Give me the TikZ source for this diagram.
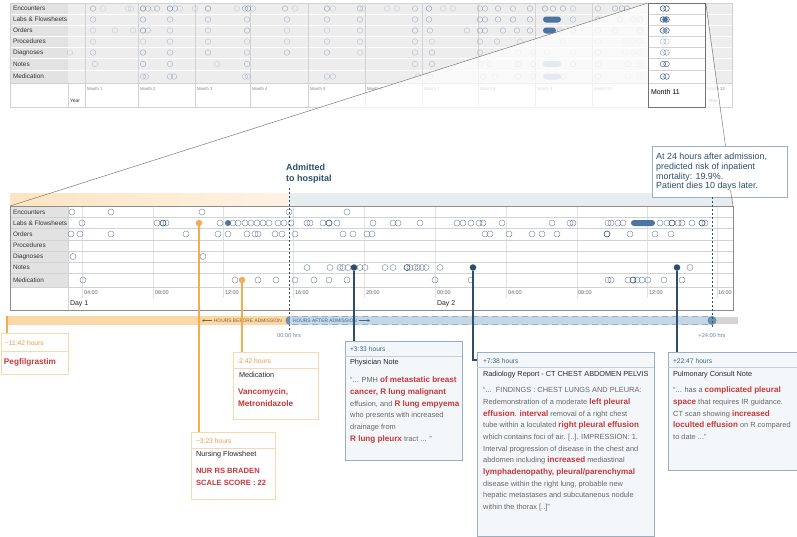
\documentclass[tikz,border=0pt]{standalone}
\usepackage{fontspec}
\setmainfont{Liberation Sans}
\usetikzlibrary{arrows.meta}
\definecolor{toprow}{HTML}{EDEDED}
\definecolor{toplab}{HTML}{E2E2E2}
\definecolor{gline}{HTML}{D2D2D2}
\definecolor{hline}{HTML}{E2E2E2}
\definecolor{circ}{HTML}{6F82A0}
\definecolor{darkcirc}{HTML}{3E5878}
\definecolor{darkblue}{HTML}{2F4D68}
\definecolor{pillblue}{HTML}{4D73A3}
\definecolor{pillgray}{HTML}{A9B4C6}
\definecolor{orng}{HTML}{F2AE4E}
\definecolor{orngbox}{HTML}{F9D8AA}
\definecolor{orngtxt}{HTML}{E59B4A}
\definecolor{hlred}{HTML}{C8373A}
\definecolor{tealtxt}{HTML}{2B5069}
\definecolor{bluebox}{HTML}{F4F7FA}
\definecolor{blueedge}{HTML}{9DAFBF}
\definecolor{bluehdr}{HTML}{3F6888}
\definecolor{bodygray}{HTML}{666666}
\definecolor{bandorange}{HTML}{FDE4C2}
\definecolor{bandblue}{HTML}{E8EDF2}
\definecolor{barorange}{HTML}{FCD8A6}
\definecolor{barblue}{HTML}{C3D7E6}
\definecolor{barblueedge}{HTML}{8FB0C8}
\definecolor{capblue}{HTML}{6D92AE}
\definecolor{browntxt}{HTML}{8A6236}
\newcommand{\fsz}[1]{\fontsize{#1}{#1}\selectfont}
\newcommand{\hlr}[1]{{\color{hlred}\bfseries\fontsize{8.1}{11.7}\selectfont #1}}
\newcommand{\crow}[2]{\foreach \x/\o in {#2} \draw[tc, draw opacity=\o] (\x,#1) circle (2.8);}
\newcommand{\drow}[3]{\foreach \x in {#3} \draw[#2] (\x,#1) circle (3);}
\begin{document}
\begin{tikzpicture}[x=1pt,y=-1pt,
  txt/.style={anchor=west, inner sep=0, outer sep=0},
  rowlbl/.style={txt, font=\fsz{6.4}, text=black!80},
  monlbl/.style={txt, font=\fsz{4.3}, text=black!50},
  hrlbl/.style={txt, font=\fsz{5.5}, text=black!60},
  tc/.style={draw=circ, line width=0.45},
  dc/.style={draw=circ, line width=0.5, draw opacity=0.85},
  ddc/.style={draw=darkcirc, line width=0.65},
  obox/.style={draw=orngbox, fill=white, line width=0.7, anchor=north west, inner sep=0, rectangle},
  bbox/.style={draw=blueedge, fill=bluebox, line width=0.7, anchor=north west, inner sep=0, rectangle},
  ohdr/.style={txt, font=\fsz{6.7}, text=orngtxt},
  bhdr/.style={txt, font=\fsz{6.7}, text=bluehdr},
  ttl/.style={txt, font=\fsz{7.3}, text=black!85},
  redb/.style={txt, font=\bfseries\fsz{8.2}, text=hlred},
  body/.style={anchor=north west, inner sep=0, align=left, font=\fontsize{7.4}{11.7}\selectfont, text=bodygray},
  oline/.style={draw=orng, line width=1.1},
  bline/.style={draw=darkblue, line width=1.1},
  dot/.style={circle, inner sep=0, minimum size=6.5},
]
\useasboundingbox (0,0) rectangle (797,536);

% ================= TOP OVERVIEW PANEL =================
\fill[toprow] (68,3) rectangle (732,83);
\fill[toplab] (10,3) rectangle (68,83);
\foreach \y in {14,25,36,47,58,70} \draw[white, line width=0.9] (10,\y) -- (732,\y);
\foreach \x in {85,138,195,250,308,365,422,478,535,592,705} \draw[gline, line width=0.4] (\x,3) -- (\x,107);
\draw[gline, line width=0.5] (10,3) rectangle (732,107);
\draw[gline, line width=0.5] (68,83) -- (68,107);
\draw[gline, line width=0.5] (10,83) -- (732,83);
\node[rowlbl] (tl1) at (13,8.5) {Encounters};
\node[rowlbl] (tl2) at (13,19.5) {Labs \& Flowsheets};
\node[rowlbl] (tl3) at (13,30.5) {Orders};
\node[rowlbl] (tl4) at (13,41.5) {Procedures};
\node[rowlbl] (tl5) at (13,52.5) {Diagnoses};
\node[rowlbl] (tl6) at (13,64) {Notes};
\node[rowlbl] (tl7) at (13,76.5) {Medication};
\foreach \x/\m [count=\i] in {87/1,140/2,197/3,252/4,310/5,367/6,424/7,480/8,537/9,594/10,707/12}
  \node[monlbl] (mon\i) at (\x,89) {Month \m};
\node[txt, font=\fsz{5}, text=black!80] (yr1) at (70,101) {Year};
\node[txt, font=\fsz{5}, text=black!60] (yr2) at (708,101) {Year};

\crow{8.5}{93/.6,103/.25,128/.25,131/.25,143/.9,148/.5,153/.3,157/.5,170/.9,175/.6,180/.3,195/.3,208/.8,237/.3,245/.6,248/.8,253/.4,285/.6,295/.3,327/.7,333/.3,360/.6,363/.3,387/.3,397/.3,415/.5,429/.8,443/.3,453/.3,480/.5,485/.6,498/.6,513/.5,530/.6,545/.7,553/.6,563/.6,573/.4,598/.5,615/.6,622/.6,627/.6}
\crow{19.5}{93/.5,143/.6,170/.5,208/.5,247/.5,287/.5,327/.5,360/.5,415/.5,429/.6,480/.6,485/.6,498/.6,513/.6,530/.6,573/.5,598/.5,620/.5,633/.5,640/.5}
\crow{30.5}{93/.3,115/.3,133/.3,143/.8,148/.4,170/.4,208/.4,247/.6,287/.3,327/.3,360/.4,415/.6,430/.5,467/.4,480/.6,485/.6,503/.5,517/.5,530/.6,560/.4,573/.4,598/.4,615/.4,640/.4}
\crow{41.5}{93/.3,143/.3,170/.4,208/.4,247/.3,287/.3,327/.4,360/.4,415/.4,432/.3,480/.4,497/.4,520/.3,563/.3,598/.3,625/.3,633/.3,640/.3}
\crow{52.5}{70/.3,93/.5,143/.6,170/.5,208/.5,247/.4,287/.5,327/.5,360/.3,415/.4,432/.5,480/.4,518/.3,533/.3,547/.3,573/.3,598/.4,625/.3,633/.3,640/.3}
\crow{64}{95/.4,143/.6,170/.5,217/.3,247/.5,415/.4,432/.5,480/.3,490/.3,518/.4,533/.4,573/.4,598/.4,628/.3,640/.3}
\crow{76.5}{143/.4,146/.4,170/.5,174/.5,245/.4,248/.4,327/.4,333/.4,418/.3,430/.5,483/.4,495/.4,518/.4,533/.4,563/.4,598/.4,628/.3,640/.3}
\fill[pillblue, rounded corners=3] (543,16.5) rectangle (561,22.5);
\fill[pillblue, rounded corners=3] (543,27.5) rectangle (556,33.5);
\fill[pillgray, rounded corners=3] (543,61) rectangle (561,67);
\fill[pillgray, rounded corners=3] (543,73.5) rectangle (561,79.5);

% fading wedge
\fill[white, opacity=0.7] (648,3) -- (705,3) -- (733,206) -- (10,206) -- cycle;

% Month 11 box
\node[draw=black!55, fill=white, line width=0.8, anchor=north west, inner sep=0, minimum width=57, minimum height=104] (m11) at (648,3) {};
\foreach \y in {14,25,36,47,58,70,83} \draw[gline, line width=0.4] (648.5,\y) -- (704.5,\y);
\node[txt, font=\fsz{7}, text=black] (m11lbl) at (651,92) {Month 11};
\foreach \y/\o in {8.5/.9,19.5/1,30.5/.9,41.5/.3,52.5/.5,64/.8,76.5/.8} {
  \draw[draw=darkcirc, line width=0.6, draw opacity=\o] (663,\y) circle (2.8);
  \draw[draw=darkcirc, line width=0.6, draw opacity=\o] (666.5,\y) circle (2.8);
}
\fill[pillblue] (665,19.5) circle (2.8);
\fill[pillblue!70] (665,30.5) circle (2.3);

% ================= DETAIL PANEL =================
\shade[left color=bandorange, right color=bandorange!45!white] (10,193) rectangle (289,206);
\fill[bandblue] (289,193) rectangle (733,206);
\fill[white] (10,206) rectangle (733,310);
\fill[toplab] (10,206) rectangle (68,287);
\foreach \x in {82,153,223,293,364,435,506,577,647,717} \draw[hline, line width=0.5] (\x,207) -- (\x,298);
\foreach \y in {217,228,240,251,262,273,287} \draw[gline, line width=0.5] (10,\y) -- (733,\y);
\draw[gline, line width=0.5] (68,206) -- (68,310);
\draw[black!45, line width=0.7] (10,206) rectangle (733,310);

\node[rowlbl] (dl1) at (13,212) {Encounters};
\node[rowlbl] (dl2) at (13,223) {Labs \& Flowsheets};
\node[rowlbl] (dl3) at (13,234) {Orders};
\node[rowlbl] (dl4) at (13,245.5) {Procedures};
\node[rowlbl] (dl5) at (13,256.5) {Diagnoses};
\node[rowlbl] (dl6) at (13,267.5) {Notes};
\node[rowlbl] (dl7) at (13,280) {Medication};
\foreach \x/\t [count=\i] in {84/04:00,155/08:00,225/12:00,295/16:00,366/20:00,437/00:00,508/04:00,578/08:00,649/12:00,718/16:00}
  \node[hrlbl] (hr\i) at (\x,293) {\t};
\node[txt, font=\fsz{7}, text=black!85] (day1) at (70,304) {Day 1};
\node[txt, font=\fsz{7}, text=black!85] (day2) at (437,304) {Day 2};

% circles
\drow{212}{dc}{72,111,202,289,347}
\drow{223}{dc}{82,157,166,220,233,238,245,251,257,263,269,278,284,291,307,310,323,337,373,393,398,420,457,463,471,479,483,502,552,570,573,608,611,618,623,660,667,678,682,692,705}
\drow{223}{ddc}{163,329,672,702}
\fill[pillblue] (228,223) circle (3);
\fill[pillblue, rounded corners=3] (631,220) rectangle (655,226);
\drow{234}{dc}{71,80,111,186,218,228,247,255,258,275,282,295,343,353,367,372,485,490,509,532,542,557,630,655,671}
\drow{234}{ddc}{607}
\drow{256.5}{dc}{73,203}
\drow{267.5}{dc}{307,330,340,343,348,360,365,385,393,410,415,418,422,426,440,690}
\drow{267.5}{ddc}{407}
\drow{280}{dc}{83,235,258,276,295,314,329,347,435,471,608,611,628,637,642,648,664,682}
\drow{280}{ddc}{633}

% admission label and dashed markers
\node[anchor=north west, inner sep=0, align=left, font=\bfseries\fontsize{9}{11}\selectfont, text=tealtxt] (adm) at (286,163.5) {Admitted\\to hospital};
\coordinate (admtop) at (289,188);
\coordinate (admbot) at (289,330);
\draw[tealtxt, line width=0.6, dash pattern=on 2pt off 2pt] (admtop) -- (admbot);

% bars
\fill[barorange] (7,316) rectangle (289,325);
\fill[black!17] (713,317) rectangle (738,324);
\fill[capblue] (290,320.5) circle (4.5);
\fill[barblue] (290,316) rectangle (713,325);
\draw[barblueedge, line width=0.8, dash pattern=on 6pt off 4pt] (292,316.6) -- (712,316.6);
\draw[barblueedge, line width=0.8, dash pattern=on 6pt off 4pt] (292,324.4) -- (712,324.4);
\fill[capblue] (712,320.5) circle (4.5);
\node[txt, anchor=east, font=\fsz{4.9}, text=browntxt] (hbef) at (282,320.5) {HOURS BEFORE ADMISSION};
\coordinate (hbefarr) at (202,320.5);
\draw[browntxt, line width=0.5, -{Stealth[length=2.5pt,width=2.5pt]}] (hbef.west) ++(-2,0) -- (hbefarr);
\node[txt, font=\fsz{4.9}, text=bluehdr] (haft) at (293,320.5) {HOURS AFTER ADMISSION};
\coordinate (haftarr) at (370,320.5);
\draw[bluehdr, line width=0.5, -{Stealth[length=2.5pt,width=2.5pt]}] (haft.east) ++(2,0) -- (haftarr);
\node[font=\fsz{5.7}, text=bluehdr!80, inner sep=0] (h0) at (289,335) {00:00 hrs};
\node[font=\fsz{5.7}, text=bluehdr!80, inner sep=0] (h24) at (712,335) {+24:00 hrs};

% annotation box
\node[draw=blueedge, fill=white, line width=0.7, anchor=north west, inner sep=0, minimum width=135, minimum height=51] (note24) at (652,146) {};
\node[anchor=north west, inner sep=0, align=left, font=\fontsize{8.9}{9.7}\selectfont, text=tealtxt] (note24txt) at (656,153) {At 24 hours after admission,\\predicted risk of inpatient\\mortality: 19.9\%.\\Patient dies 10 days later.};
\coordinate (d24top) at (712,197);
\coordinate (d24bot) at (712,328);
\draw[tealtxt, line width=0.6, dash pattern=on 2pt off 2pt] (d24top) -- (d24bot);

% zoom lines
\coordinate (dnw) at (10,206);
\coordinate (dne) at (733,206);
\draw[black!55, line width=0.45] (m11.north west) -- (dnw);
\draw[black!55, line width=0.45] (m11.north east) -- (725.5,146);
\draw[black!55, line width=0.45] (730.5,190) -- (dne);

% ================= EVENT BOXES =================
% Pegfilgrastim
\node[obox, minimum width=67, minimum height=41] (pegbox) at (1,333) {};
\draw[orngbox, line width=0.6] (1,351) -- (68,351);
\node[ohdr] (peghdr) at (5,343) {−11:42 hours};
\node[redb] (pegtxt) at (4,362) {Pegfilgrastim};

% Medication
\node[obox, minimum width=85, minimum height=67] (medbox) at (233,352) {};
\draw[orngbox, line width=0.6] (233,368) -- (318,368);
\node[ohdr] (medhdr) at (237,361) {-2:42 hours};
\node[ttl] (medttl) at (239,374.5) {Medication};
\node[redb] (med1) at (238,392) {Vancomycin,};
\node[redb] (med2) at (238,403.5) {Metronidazole};

% Nursing flowsheet
\node[obox, minimum width=84, minimum height=67] (nursbox) at (191,432) {};
\draw[orngbox, line width=0.6] (191,448) -- (275,448);
\node[ohdr] (nurshdr) at (196,441) {−3:23 hours};
\node[ttl] (nursttl) at (196,454.5) {Nursing Flowsheet};
\node[redb, font=\bfseries\fsz{7.6}] (nurs1) at (196,471) {NUR RS BRADEN};
\node[redb, font=\bfseries\fsz{7.6}] (nurs2) at (196,483) {SCALE SCORE : 22};

% Physician note
\node[bbox, minimum width=117, minimum height=119] (physbox) at (345,341) {};
\draw[blueedge!60, line width=0.5] (345,356) -- (462,356);
\node[bhdr] (physhdr) at (350,349) {+3:33 hours};
\node[ttl] (physttl) at (350,363) {Physician Note};
\node[body] (phystxt) at (350,376.7) {“... PMH \hlr{of metastatic breast}\\\hlr{cancer, R lung malignant}\\effusion, and \hlr{R lung empyema}\\who presents with increased\\drainage from\\\hlr{R lung pleurx} tract ... ”};

% Radiology report
\node[bbox, minimum width=177, minimum height=184] (radbox) at (477,352) {};
\draw[blueedge!60, line width=0.5] (477,367) -- (654,367);
\node[bhdr] (radhdr) at (483,361) {+7:38 hours};
\node[ttl] (radttl) at (483,374.5) {Radiology Report - CT CHEST ABDOMEN PELVIS};
\node[body] (radtxt) at (483,387.3) {“...\ \ FINDINGS : CHEST LUNGS AND PLEURA:\\Redemonstration of a moderate \hlr{left pleural}\\\hlr{effusion}. \hlr{interval} removal of a right chest\\tube within a loculated \hlr{right pleural effusion}\\which contains foci of air. [..]. IMPRESSION: 1.\\Interval progression of disease in the chest and\\abdomen including \hlr{increased} mediastinal\\\hlr{lymphadenopathy, pleural/parenchymal}\\disease within the right lung, probable new\\hepatic metastases and subcutaneous nodule\\within the thorax [..]”};

% Pulmonary consult
\node[bbox, minimum width=128.5, minimum height=118] (pulmbox) at (668,352) {};
\draw[blueedge!60, line width=0.5] (668,367) -- (797,367);
\node[bhdr] (pulmhdr) at (673,361) {+22:47 hours};
\node[ttl] (pulmttl) at (673,374.5) {Pulmonary Consult Note};
\node[body] (pulmtxt) at (673,386.7) {“... has a \hlr{complicated pleural}\\\hlr{space} that requires IR guidance.\\CT scan showing \hlr{increased}\\\hlr{loculted effusion} on R compared\\to date ...”};

% ================= CONNECTORS =================
\node[dot, fill=orng] (nursc) at (199,223) {};
\node[dot, fill=orng] (medc) at (242,280) {};
\node[dot, fill=darkblue] (physc) at (354,267.5) {};
\node[dot, fill=darkblue] (radc) at (473,267.5) {};
\node[dot, fill=darkblue] (pulmc) at (677,267.5) {};
\coordinate (pegtop) at (7,316);
\coordinate (radjoin) at (477,360);
\draw[oline] (pegtop) -- (pegtop |- pegbox.north);
\draw[oline] (nursc) -- (nursc |- nursbox.north);
\draw[oline] (medc) -- (medc |- medbox.north);
\draw[bline] (physc) -- (physc |- physbox.north);
\draw[bline] (radc) |- (radjoin);
\draw[bline] (pulmc) -- (pulmc |- pulmbox.north);
\end{tikzpicture}
\end{document}
